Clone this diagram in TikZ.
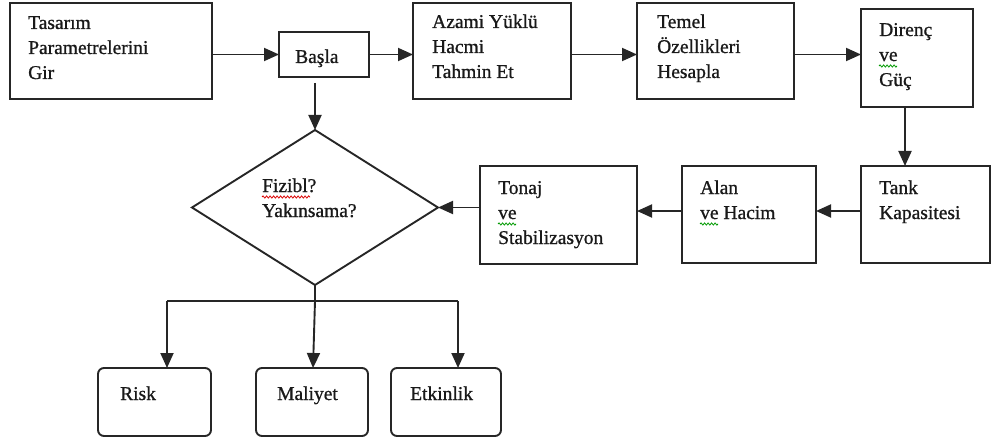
\documentclass[tikz,border=0pt]{standalone}
\usepackage{fontspec}
\setmainfont{Liberation Serif}[FakeBold=0.9]
\usetikzlibrary{arrows.meta,shapes.geometric,decorations.pathmorphing}
\newcommand{\txtlines}[1]{\begin{tabular}[t]{@{}l@{}}#1\end{tabular}}

\begin{document}
\begin{tikzpicture}[x=1pt,y=-1pt,
  box/.style={draw=black!85, line width=1.9pt, inner sep=0pt, outer sep=0pt},
  rbox/.style={box, rounded corners=6pt},
  lbl/.style={anchor=base west, inner sep=0pt, text=black!90, font=\fontsize{19.5}{25}\selectfont},
  link/.style={line width=1.9pt, draw=black!85},
  arr/.style={link, -{Triangle[length=15pt,width=13pt]}},
  squig/.style={decorate, decoration={snake, amplitude=1.1pt, segment length=3.5pt}, line width=0.8pt}
]
\useasboundingbox (0,0) rectangle (993,441);

% top row
\node[box, minimum width=202pt, minimum height=96pt] (tas) at (111,51) {};
\node[box, minimum width=90pt,  minimum height=45pt] (bas) at (324,54.5) {};
\node[box, minimum width=158pt, minimum height=96pt] (aza) at (492,51) {};
\node[box, minimum width=157pt, minimum height=96pt] (tem) at (715.5,51) {};
\node[box, minimum width=112pt, minimum height=98pt] (dir) at (917,58) {};

% middle row
\node[box, minimum width=129pt, minimum height=97pt] (tank) at (925.5,214.5) {};
\node[box, minimum width=134pt, minimum height=97pt] (alan) at (749,214.5) {};
\node[box, minimum width=157pt, minimum height=98pt] (ton) at (558.5,215) {};
\node[box, shape=diamond, minimum width=246pt, minimum height=155pt] (dia) at (315,207.5) {};

% results
\node[rbox, minimum width=113pt, minimum height=68pt] (risk) at (154.5,402) {};
\node[rbox, minimum width=112pt, minimum height=68pt] (mal) at (312,402) {};
\node[rbox, minimum width=110pt, minimum height=68pt] (etk) at (446,402) {};

% labels
\node[lbl] (tas-t) at (28,29) {\txtlines{Tasarım\\Parametrelerini\\Gir}};
\node[lbl] (bas-t) at (295,63) {Başla};
\node[lbl] (aza-t) at (432,28) {\txtlines{Azami Yüklü\\Hacmi\\Tahmin Et}};
\node[lbl] (tem-t) at (657,28) {\txtlines{Temel\\Özellikleri\\Hesapla}};
\node[lbl] (dir-t) at (879,36) {\txtlines{Direnç\\ve\\Güç}};
\node[lbl] (tank-t) at (879,194) {\txtlines{Tank\\Kapasitesi}};
\node[lbl] (alan-t) at (700,194) {\txtlines{Alan\\ve Hacim}};
\node[lbl] (ton-t) at (498,194) {\txtlines{Tonaj\\ve\\Stabilizasyon}};
\node[lbl] (dia-t) at (262,192) {\txtlines{Fizibl?\\Yakınsama?}};
\node[lbl] (risk-t) at (120,400) {Risk};
\node[lbl] (mal-t) at (277,400) {Maliyet};
\node[lbl] (etk-t) at (410,400) {Etkinlik};

% proofing underlines
\draw[squig, red!85!black] (262,197) -- (310,197);
\draw[squig, green!60!black] (879,66) -- (897,66);
\draw[squig, green!60!black] (498,224) -- (516,224);
\draw[squig, green!60!black] (700,224) -- (718,224);

% flow along the top
\draw[arr] (tas.east |- bas.west) -- (bas.west);
\draw[arr] (bas.east) -- (aza.west |- bas.east);
\draw[arr] (aza.east |- bas.east) -- (tem.west |- bas.east);
\draw[arr] (tem.east |- bas.east) -- (dir.west |- bas.east);

% down and back to the left
\draw[arr] ([xshift=-12pt]dir.south) -- ([xshift=-12pt]dir.south |- tank.north);
\draw[arr] ([yshift=3.5pt]tank.west) -- ([yshift=3.5pt]tank.west -| alan.east);
\draw[arr] ([yshift=3.5pt]alan.west) -- ([yshift=3.5pt]alan.west -| ton.east);
\draw[arr] (ton.west |- dia.east) -- (dia.east);

% start into the decision
\draw[arr] ([yshift=-6pt]bas.south -| dia.north) -- (dia.north);

% decision to the results
\coordinate (split) at ([yshift=-16pt]dia.south);
\draw[link] (dia.south) -- (split);
\draw[link] ([xshift=12.5pt]risk.north |- split) -- ([xshift=12pt]etk.north |- split);
\draw[arr] ([xshift=12.5pt]risk.north |- split) -- ([xshift=12.5pt]risk.north);
\draw[arr] (split) -- ([xshift=1pt]mal.north);
\draw[arr] ([xshift=12pt]etk.north |- split) -- ([xshift=12pt]etk.north);
\end{tikzpicture}
\end{document}
